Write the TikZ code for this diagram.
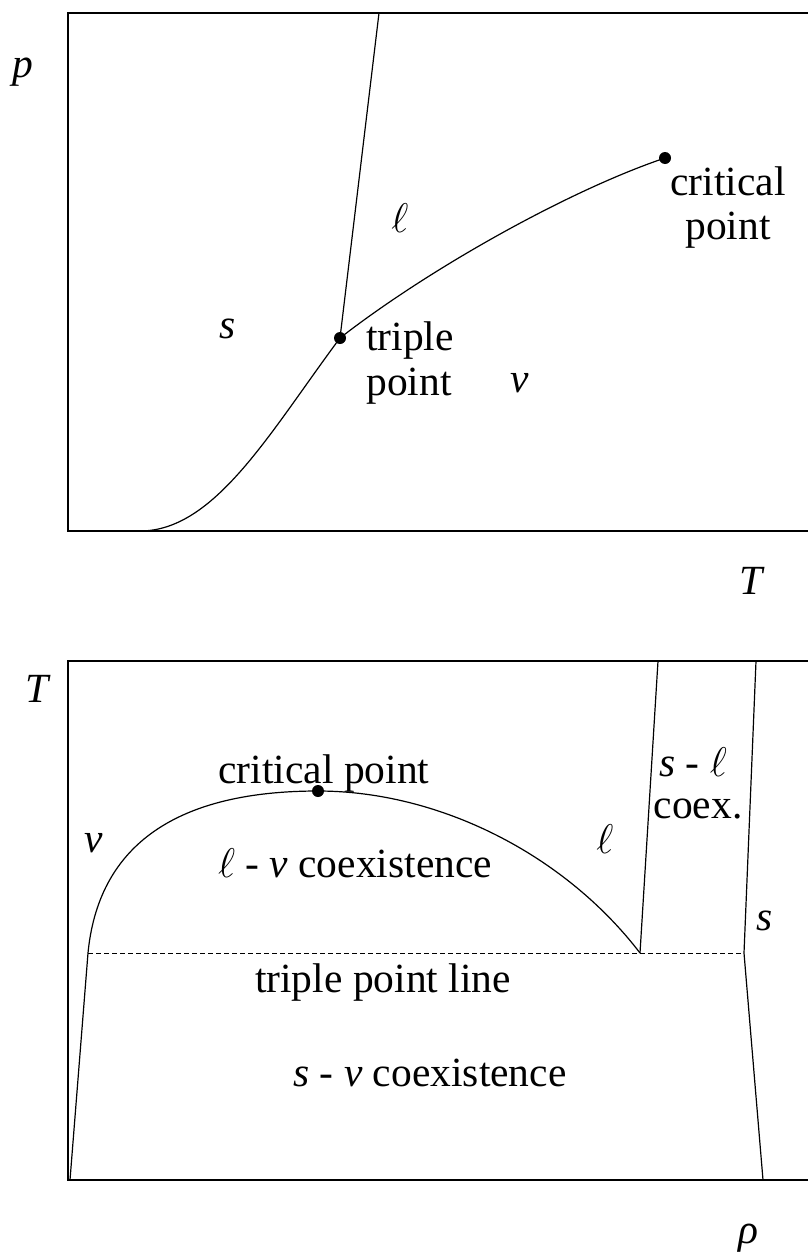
\RequirePackage{fix-cm}
\documentclass[tikz,border=0pt]{standalone}
\usepackage{fontspec}
\setmainfont{Liberation Serif}
\begin{document}
\begin{tikzpicture}[x=1pt,y=-1pt,
  frame/.style={line width=2.2pt},
  curve/.style={line width=1.2pt},
  dashline/.style={line width=1pt,dash pattern=on 4.5pt off 3.5pt},
  dot/.style={circle,fill,inner sep=0pt,minimum size=12pt},
  lab/.style={font=\fontsize{41.5}{46}\selectfont, inner sep=0pt, anchor=base},
]
\useasboundingbox (0,0) rectangle (807,1253);
% ---------- top panel: p-T diagram ----------
\draw[frame] (812,13) -- (68,13) -- (68,531) -- (812,531);
\coordinate (mtop) at (379,13);
\coordinate (sub0) at (140,531);
\node[dot] (tp) at (340,338) {};
\node[dot] (cp) at (665,158) {};
\draw[curve] (tp.center) -- (mtop);
\draw[curve] (sub0) .. controls (215,531) and (270,432) .. (tp.center);
\draw[curve] (tp.center) .. controls (430,268) and (570,190) .. (cp.center);
\node[lab] (pl) at (23,77) {\textit{p}};
\node[lab] (Tl) at (752,594) {\textit{T}};
\node[lab] (lq) at (400,232) {$\ell$};
\node[lab] (sl) at (228,338) {\textit{s}};
\node[lab] (vl) at (520,392) {\textit{v}};
\node[lab] (tp1) at (410,350) {triple};
\node[lab] (tp2) at (409,395) {point};
\node[lab] (cp1) at (728,195) {critical};
\node[lab] (cp2) at (728,239) {point};
% ---------- bottom panel: T-rho diagram ----------
\draw[frame] (812,661) -- (68,661) -- (68,1180) -- (812,1180);
\coordinate (va) at (88,953);
\coordinate (vb) at (70,1180);
\coordinate (la) at (640,953);
\coordinate (lb) at (658,661);
\coordinate (sa) at (744,953);
\coordinate (sb) at (756,661);
\coordinate (sc) at (763,1180);
\node[dot] (cpb) at (318,791) {};
\draw[curve] (va) .. controls (98,850) and (170,791) .. (cpb.center)
  .. controls (440,791) and (565,855) .. (la);
\draw[curve] (va) -- (vb);
\draw[curve] (la) -- (lb);
\draw[curve] (sb) -- (sa) -- (sc);
\draw[dashline] (va) -- (sa);
\node[lab] (Tb) at (38,702) {\textit{T}};
\node[lab] (rho) at (748,1243) {\textit{ρ}};
\node[lab] (cpt) at (324,783) {critical point};
\node[lab] (vb1) at (94,852) {\textit{v}};
\node[lab] (lvc) at (355,877) {$\ell$ - \textit{v} coexistence};
\node[lab] (lb1) at (605,853) {$\ell$};
\node[lab] (slc1) at (693,776) {\textit{s} - $\ell$};
\node[lab] (slc2) at (698,818) {coex.};
\node[lab] (sb1) at (765,930) {\textit{s}};
\node[lab] (tpl) at (383,992) {triple point line};
\node[lab] (svc) at (430,1086) {\textit{s} - \textit{v} coexistence};
\end{tikzpicture}
\end{document}
